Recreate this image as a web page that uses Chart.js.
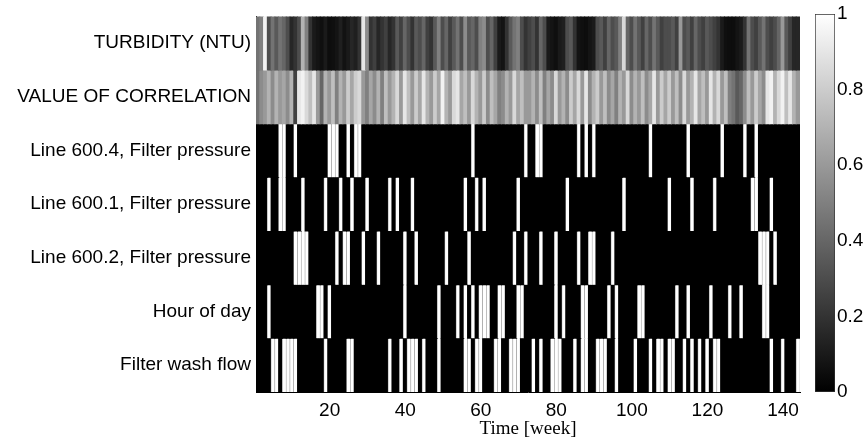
<!DOCTYPE html>
<html>
<head>
<meta charset="utf-8">
<script src="https://cdn.jsdelivr.net/npm/chart.js@4.4.1/dist/chart.umd.min.js"></script>
<style>
  body { margin: 0; background: #fff; }
  #wrap { position: relative; width: 865px; height: 439px; }
  #heat { position: absolute; left: 0; top: 0; }
  #bar { position: absolute; left: 808px; top: 0; }
</style>
</head>
<body>
<div id="wrap">
  <canvas id="heat" width="808" height="439"></canvas>
  <canvas id="bar" width="57" height="439"></canvas>
</div>
<script>
// row names, top to bottom
const rowNames = [
  "TURBIDITY (NTU)",
  "VALUE OF CORRELATION",
  "Line 600.4, Filter pressure",
  "Line 600.1, Filter pressure",
  "Line 600.2, Filter pressure",
  "Hour of day",
  "Filter wash flow"
];
const xTicks = [20, 40, 60, 80, 100, 120, 140];
const cbTicks = [0, 0.2, 0.4, 0.6, 0.8, 1];

// grey rows, one value per week (0..1)
const turbidity = [
  0.45,0.5,0.95,0.3,0.45,0.35,0.45,0.4,0.3,0.15,0.2,0.3,0.7,0.5,0.2,0.1,0.08,0.06,0.1,0.05,0.06,0.08,0.12,0.07,0.1,0.15,0.12,0.2,0.9,0.55,0.2,0.25,0.15,0.2,0.25,0.15,
  0.2,0.35,0.25,0.4,0.3,0.2,0.35,0.3,0.4,0.25,0.2,0.35,0.5,0.3,0.4,0.25,0.35,0.45,0.3,0.55,0.35,0.4,0.3,0.5,0.55,0.3,0.4,0.25,0.1,0.08,0.2,0.35,0.45,0.5,0.3,0.2,
  0.25,0.3,0.2,0.4,0.3,0.1,0.08,0.06,0.1,0.12,0.3,0.35,0.2,0.08,0.06,0.05,0.08,0.1,0.3,0.35,0.25,0.4,0.3,0.35,0.5,0.85,0.4,0.3,0.45,0.35,0.25,0.4,0.3,0.45,0.35,0.25,0.3,
  0.3,0.35,0.25,0.6,0.3,0.35,0.25,0.4,0.3,0.25,0.35,0.3,0.25,0.2,0.1,0.06,0.05,0.05,0.08,0.1,0.2,0.45,0.3,0.25,0.35,0.45,0.3,0.25,0.3,0.4,0.6,0.35,0.25,0.15,0.15
];
const correlation = [
  0.45,0.55,0.6,0.7,0.55,0.7,0.6,0.65,0.55,0.7,0.25,0.9,0.95,0.85,0.75,0.9,0.6,0.4,0.7,0.6,0.75,0.5,0.7,0.6,0.8,0.65,0.8,0.85,0.6,0.5,0.65,0.55,0.7,0.5,0.75,0.6,
  0.7,0.85,0.6,0.9,0.75,0.6,0.8,0.65,0.9,0.7,0.6,0.8,0.65,0.95,0.7,0.6,0.85,0.9,0.65,0.75,0.6,0.85,0.7,0.6,0.8,0.55,0.75,0.65,0.5,0.55,0.7,0.6,0.85,0.65,0.75,0.6,
  0.6,0.7,0.55,0.75,0.5,0.65,0.55,0.85,0.6,0.7,0.55,0.8,0.65,0.85,0.6,0.9,0.55,0.7,0.8,0.6,0.75,0.55,0.65,0.5,0.7,0.6,0.85,0.55,0.7,0.6,0.75,0.55,0.65,0.9,0.6,0.8,0.65,
  0.8,0.6,0.75,0.55,0.85,0.6,0.7,0.9,0.65,0.75,0.6,0.9,0.7,0.85,0.6,0.75,0.5,0.45,0.35,0.4,0.55,0.75,0.6,0.8,0.65,0.55,0.9,0.95,0.7,0.85,0.95,0.75,0.9,0.7,0.6
];

// binary rows: weeks where the value is 1 (white), all other weeks are 0
const pressure604 = [7,8,11,20,21,22,25,27,28,58,72,75,76,86,88,90,105,115,124,130,133];
const pressure601 = [4,7,8,13,19,23,26,30,36,38,42,56,59,61,70,83,98,110,116,122,132,133,137];
const pressure602 = [11,12,13,14,22,24,25,29,33,40,43,51,57,69,72,76,80,86,89,90,95,134,135,136,138];
const hourOfDay = [4,17,18,20,40,49,54,56,58,60,61,62,65,66,70,71,80,82,87,88,94,96,102,103,112,115,121,126,129,135,136];
const washFlow = [5,6,8,9,10,11,19,25,26,36,39,41,42,43,45,49,56,57,59,60,64,65,68,69,70,74,76,79,80,81,85,87,88,91,92,93,96,101,105,107,108,110,111,114,116,118,120,122,123,137,140,144];

const weeks = turbidity.map((v, i) => i + 1);

function fromEvents(list) {
  return weeks.map(w => (list.indexOf(w) >= 0 ? 1 : 0));
}

const rows = [
  turbidity,
  correlation,
  fromEvents(pressure604),
  fromEvents(pressure601),
  fromEvents(pressure602),
  fromEvents(hourOfDay),
  fromEvents(washFlow)
];

function grey(v) {
  const g = Math.round(v * 255);
  return "rgb(" + g + "," + g + "," + g + ")";
}

function isWhite(ctx) {
  return ctx.raw && ctx.raw.v > 0.99;
}

const font = { family: "'Liberation Sans', Arial, sans-serif", size: 19 };

// heatmap - one floating bar per week and row
// white cells get a soft grey edge, like the scanned original
const heatDatasets = rows.map((vals, r) => ({
  data: weeks.map((w, i) => ({ x: w, y: [r + 0.5, r + 1.5], v: vals[i] })),
  backgroundColor: ctx => grey(ctx.raw ? ctx.raw.v : 0),
  borderColor: "#9a9a9a",
  borderWidth: ctx => (isWhite(ctx) ? { left: 0.7, right: 0.7, top: 0, bottom: 0 } : 0),
  inflateAmount: 0.5,
  grouped: false,
  barPercentage: 1,
  categoryPercentage: 1
}));

new Chart(document.getElementById("heat"), {
  type: "bar",
  data: { datasets: heatDatasets },
  options: {
    responsive: false,
    animation: false,
    layout: { padding: { top: 14, right: 8, left: 0, bottom: 0 } },
    plugins: { legend: { display: false }, tooltip: { enabled: false } },
    scales: {
      x: {
        type: "linear",
        offset: false,
        min: 0.5,
        max: weeks.length + 0.5,
        afterBuildTicks: s => { s.ticks = xTicks.map(v => ({ value: v })); },
        afterFit: s => { s.height = 47; },
        grid: { display: false, drawTicks: false },
        border: { display: true, color: "#000" },
        ticks: { color: "#000", font: font, padding: 7, maxRotation: 0 },
        title: {
          display: true,
          text: "Time [week]",
          color: "#000",
          font: { family: "'Liberation Serif', 'Times New Roman', serif", size: 19, lineHeight: 1 },
          padding: { top: 0, bottom: 0 }
        }
      },
      y: {
        type: "linear",
        reverse: true,
        min: 0.5,
        max: rowNames.length + 0.5,
        afterBuildTicks: s => { s.ticks = rowNames.map((n, i) => ({ value: i + 1 })); },
        afterFit: s => { s.width = 256; },
        grid: { display: false, drawTicks: false },
        border: { display: true, color: "#000" },
        ticks: {
          color: "#000",
          font: font,
          padding: 5,
          callback: v => rowNames[v - 1]
        }
      }
    }
  }
});

// colorbar
new Chart(document.getElementById("bar"), {
  type: "bar",
  data: {
    labels: ["c"],
    datasets: [{
      data: [[0, 1]],
      backgroundColor: ctx => {
        const area = ctx.chart.chartArea;
        if (!area) return "#888";
        const g = ctx.chart.ctx.createLinearGradient(0, area.bottom, 0, area.top);
        g.addColorStop(0, "#000");
        g.addColorStop(1, "#fff");
        return g;
      },
      borderColor: "#333",
      borderWidth: 1,
      borderSkipped: false,
      barPercentage: 1,
      categoryPercentage: 1
    }]
  },
  options: {
    responsive: false,
    animation: false,
    layout: { padding: { top: 14, right: 0, left: 7, bottom: 47 } },
    plugins: { legend: { display: false }, tooltip: { enabled: false } },
    scales: {
      x: { display: false },
      y: {
        position: "right",
        min: 0,
        max: 1,
        afterBuildTicks: s => { s.ticks = cbTicks.map(v => ({ value: v })); },
        afterFit: s => { s.width = 30; },
        grid: { display: false, drawTicks: false },
        border: { display: false },
        ticks: { color: "#000", font: font, padding: 2, callback: v => String(v) }
      }
    }
  }
});
</script>
</body>
</html>
